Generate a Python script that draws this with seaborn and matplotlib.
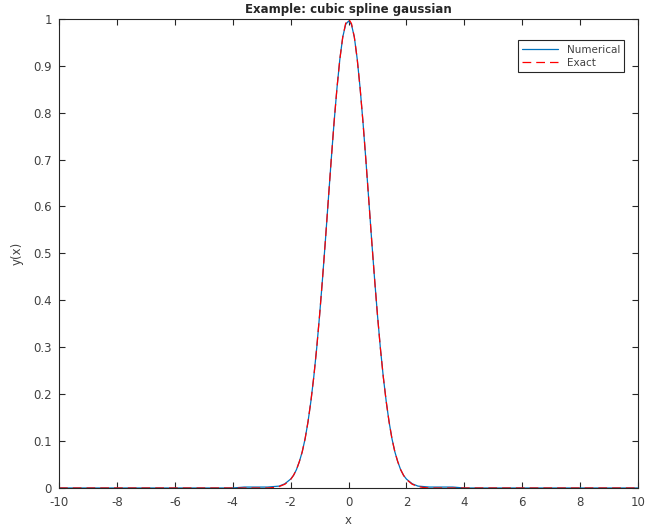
import matplotlib
matplotlib.use("Agg")
import matplotlib.pyplot as plt
import seaborn as sns
import pandas as pd

# Sampled curve values (x, y) for both series
x_vals = [-10.0, -4.0, -3.6, -3.2, -3.0, -2.8, -2.6, -2.4, -2.2, -2.0, -1.9, -1.8, -1.7,
          -1.6, -1.5, -1.4, -1.3, -1.2, -1.1, -1.0, -0.9, -0.8, -0.7, -0.6, -0.5,
          -0.4, -0.3, -0.2, -0.1, 0.0, 0.1, 0.2, 0.3, 0.4, 0.5, 0.6, 0.7, 0.8,
          0.9, 1.0, 1.1, 1.2, 1.3, 1.4, 1.5, 1.6, 1.7, 1.8, 1.9, 2.0, 2.2, 2.4,
          2.6, 2.8, 3.0, 3.2, 3.6, 4.0, 10.0]
numerical = [0.0, 0.0, 0.002, 0.002, 0.002, 0.002, 0.003, 0.004, 0.009, 0.019, 0.027, 0.039, 0.056,
             0.077, 0.105, 0.141, 0.185, 0.237, 0.298, 0.368, 0.445, 0.527, 0.613, 0.698, 0.779,
             0.852, 0.914, 0.961, 0.988, 0.995, 0.988, 0.961, 0.914, 0.852, 0.779, 0.698, 0.613, 0.527,
             0.445, 0.368, 0.298, 0.237, 0.185, 0.141, 0.105, 0.077, 0.056, 0.039, 0.027, 0.019, 0.009, 0.004,
             0.003, 0.002, 0.002, 0.002, 0.002, 0.0, 0.0]
exact = [0.0, 0.0, 0.0, 0.0, 0.0, 0.0, 0.001, 0.003, 0.008, 0.018, 0.027, 0.039, 0.056,
         0.077, 0.105, 0.141, 0.185, 0.237, 0.298, 0.368, 0.445, 0.527, 0.613, 0.698, 0.779,
         0.852, 0.914, 0.961, 0.990, 1.0, 0.990, 0.961, 0.914, 0.852, 0.779, 0.698, 0.613, 0.527,
         0.445, 0.368, 0.298, 0.237, 0.185, 0.141, 0.105, 0.077, 0.056, 0.039, 0.027, 0.018, 0.008, 0.003,
         0.001, 0.0, 0.0, 0.0, 0.0, 0.0, 0.0]

x_ticks = list(range(-10, 11, 2))
y_ticks = [0, 0.1, 0.2, 0.3, 0.4, 0.5, 0.6, 0.7, 0.8, 0.9, 1]
y_tick_labels = ["0", "0.1", "0.2", "0.3", "0.4", "0.5", "0.6", "0.7", "0.8", "0.9", "1"]
x_tick_labels = [str(t) for t in x_ticks]

sns.set_style("ticks")
plt.rcParams["font.family"] = ["DejaVu Sans"]

df = pd.concat([
    pd.DataFrame({"x": x_vals, "y": numerical, "series": "Numerical"}),
    pd.DataFrame({"x": x_vals, "y": exact, "series": "Exact"}),
])

fig = plt.figure(figsize=(6.47, 5.29), dpi=100)
ax = fig.add_axes([0.0912, 0.0775, 0.895, 0.887])

sns.lineplot(data=df[df.series == "Numerical"], x="x", y="y", ax=ax,
             color=(0.0, 0.447, 0.741), linewidth=0.9, label="Numerical")
sns.lineplot(data=df[df.series == "Exact"], x="x", y="y", ax=ax,
             color=(1.0, 0.0, 0.0), linewidth=0.9, label="Exact")
ax.lines[1].set_dashes([7, 4])

ax.set_xlim(-10, 10)
ax.set_ylim(0, 1)
ax.set_xticks(x_ticks)
ax.set_xticklabels(x_tick_labels)
ax.set_yticks(y_ticks)
ax.set_yticklabels(y_tick_labels)

edge = "#262626"
label_col = "#404040"
for s in ax.spines.values():
    s.set_visible(True)
    s.set_color(edge)
    s.set_linewidth(0.8)
ax.tick_params(direction="in", length=4, width=0.8, color=edge, labelcolor=label_col,
               labelsize=8.5, top=True, right=True)
ax.tick_params(axis="x", pad=6)
ax.tick_params(axis="y", pad=5)

ax.set_xlabel("x", fontsize=8.5, color=label_col, labelpad=3)
ax.set_ylabel("y(x)", fontsize=8.5, color=label_col, labelpad=7)
ax.set_title("Example: cubic spline gaussian", fontsize=8.5, fontweight="bold", pad=4)

leg = ax.legend(loc="upper right", fontsize=7.5, frameon=True, fancybox=False,
                handlelength=3.5, borderpad=0.4, labelspacing=0.3,
                bbox_to_anchor=(0.985, 0.965))
leg.get_frame().set_edgecolor(edge)
leg.get_frame().set_linewidth(0.8)
leg.get_frame().set_alpha(1)
for t in leg.get_texts():
    t.set_color(label_col)

fig.savefig("out.png", dpi=100)
